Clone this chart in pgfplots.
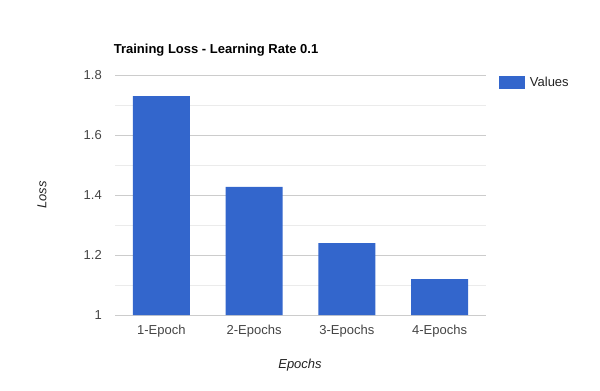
\documentclass[border=0pt]{standalone}
\usepackage{fontspec}
\setmainfont{Liberation Sans}
\usepackage{pgfplots}
\pgfplotsset{compat=1.18}
\definecolor{barblue}{HTML}{3366CC}
\definecolor{majgrid}{HTML}{CCCCCC}
\definecolor{mingrid}{HTML}{EBEBEB}
\definecolor{ticktxt}{HTML}{444444}
\definecolor{labtxt}{HTML}{222222}
\begin{document}
\begin{tikzpicture}
\path[use as bounding box] (0,0) rectangle (450pt,292.5pt);
\begin{axis}[
  at={(86.25pt,56.25pt)}, anchor=south west,
  scale only axis, width=278.25pt, height=180pt,
  xmin=-0.5, xmax=3.5, ymin=1, ymax=1.8,
  xtick={0,1,2,3},
  xticklabels={1-Epoch,2-Epochs,3-Epochs,4-Epochs},
  ytick={1,1.2,1.4,1.6,1.8},
  yticklabels={1,1.2,1.4,1.6,1.8},
  minor ytick={1.1,1.3,1.5,1.7},
  ymajorgrids, yminorgrids,
  major grid style={majgrid, line width=0.75pt},
  minor grid style={mingrid, line width=0.75pt},
  axis line style={draw=none},
  major tick length=0pt, minor tick length=0pt,
  tick style={draw=none},
  /pgf/number format/assume math mode=true,
  ticklabel style={font=\fontsize{9.75}{11}\selectfont, text=ticktxt},
  yticklabel style={anchor=east, inner sep=0pt, xshift=-9.75pt},
  xticklabel style={anchor=center, inner sep=0pt, yshift=-12pt},
  xlabel={Epochs}, ylabel={Loss},
  label style={font=\fontsize{9.75}{11}\selectfont\itshape, text=labtxt},
  xlabel style={at={(axis description cs:0.4987,-0.2083)}, anchor=center},
  ylabel style={at={(axis description cs:-0.1968,0.5)}, anchor=center, rotate=0},
  legend style={at={(rel axis cs:1,1)}, anchor=north west, draw=none, fill=none,
    xshift=9.75pt, yshift=0.75pt, inner sep=0pt, font=\fontsize{9.75}{11}\selectfont, text=labtxt,
    nodes={inner sep=2pt}},
  legend cell align=left,
  clip=false,
]
\addplot[ybar, bar width=0.615, fill=barblue, draw=none, bar shift=0pt,
  legend image code/.code={\fill[barblue] (0pt,-4.875pt) rectangle (19.5pt,4.875pt); \path (21pt,0pt);}]
  coordinates {(0,1.73) (1,1.427) (2,1.24) (3,1.12)};
\addlegendentry{Values}
\end{axis}
\node[anchor=base west, inner sep=0pt, font=\fontsize{9.75}{11}\selectfont\bfseries] at (85.2pt,252.4pt) {Training Loss - Learning Rate 0.1};
\end{tikzpicture}
\end{document}
